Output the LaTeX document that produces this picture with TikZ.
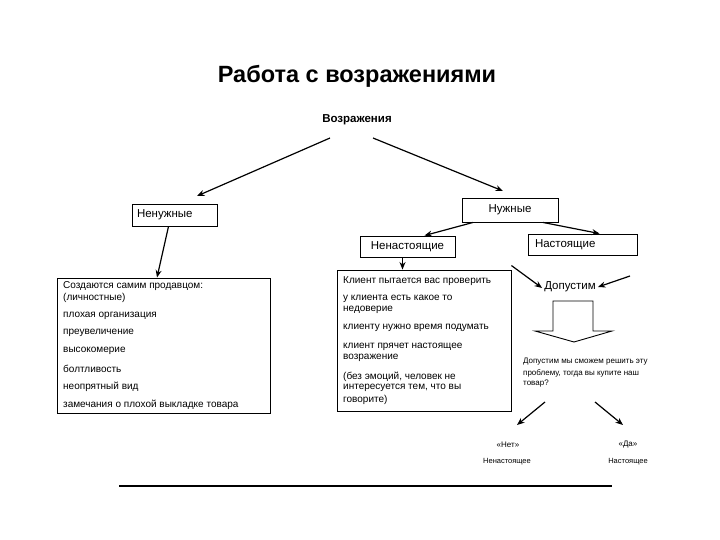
\documentclass[tikz,border=0pt]{standalone}
\usepackage{fontspec}
\setmainfont{Liberation Sans}
\usetikzlibrary{arrows.meta,calc}
\begin{document}
\begin{tikzpicture}[x=1pt,y=-1pt,
  arr/.style={-{Stealth[length=7.5pt,width=6pt]}, line width=1.2pt},
  frame/.style={draw, line width=0.9pt, inner sep=0pt},
  txt/.style={inner sep=0pt, anchor=west, font=\fontsize{10}{11}\selectfont},
  small/.style={inner sep=0pt, font=\fontsize{8}{11}\selectfont},
  lbl/.style={frame, font=\fontsize{11.5}{12}\selectfont}]
\useasboundingbox[fill=white] (0,0) rectangle (720,540);

\node[inner sep=0pt, font=\fontsize{23.5}{26}\selectfont\bfseries] (title) at (357,76) {Работа с возражениями};
\node[inner sep=0pt, font=\fontsize{11.5}{12}\selectfont\bfseries] (obj) at (357,120) {Возражения};

\node[lbl, minimum height=22pt, text width=75pt, inner xsep=5pt, align=left] (nenuzh) at (174.5,215) {Ненужные};
\node[lbl, minimum height=24pt, minimum width=96pt] (nuzh) at (510,210) {Нужные};
\node[lbl, minimum height=21pt, minimum width=95pt] (nenast) at (407.5,246.5) {Ненастоящие};
\node[lbl, minimum height=21pt, text width=95pt, inner xsep=7pt, align=left] (nast) at (582.5,244.5) {Настоящие};

\node[frame, minimum width=213pt, minimum height=135pt] (lbox) at (163.5,345.5) {};
\node[frame, minimum width=174pt, minimum height=141pt] (mbox) at (424,340.5) {};

\coordinate (a1) at (330,138);
\coordinate (a2) at (373,138);
\coordinate (n1) at (197,196);
\coordinate (n2) at (503,191);
\draw[arr] (a1) -- (n1);
\draw[arr] (a2) -- (n2);
\draw[arr] ([xshift=-37pt]nuzh.south) -- ([xshift=17pt]nenast.north);
\draw[arr] ([xshift=33pt]nuzh.south) -- ([xshift=17pt]nast.north);
\draw[arr] ([xshift=-6pt]nenuzh.south) -- ([xshift=-6.5pt]lbox.north);
\draw[arr] ([xshift=-5pt]nenast.south) -- ([xshift=-5pt]nenast.south |- mbox.north);

% left list
\node[txt] (l1) at (63,286) {Создаются самим продавцом:};
\node[txt] (l2) at (63,298) {(личностные)};
\node[txt] (l3) at (63,316) {плохая организация};
\node[txt] (l4) at (63,333) {преувеличение};
\node[txt] (l5) at (63,351) {высокомерие};
\node[txt] (l6) at (63,369) {болтливость};
\node[txt] (l7) at (63,387) {неопрятный вид};
\node[txt] (l8) at (63,405) {замечания о плохой выкладке товара};

% middle list
\node[txt] (m1) at (343,281) {Клиент пытается вас проверить};
\node[txt] (m2) at (343,299) {у клиента есть какое то};
\node[txt] (m3) at (343,310) {недоверие};
\node[txt] (m4) at (343,328) {клиенту нужно время подумать};
\node[txt] (m5) at (343,347) {клиент прячет настоящее};
\node[txt] (m6) at (343,358) {возражение};
\node[txt] (m7) at (343,377) {(без эмоций, человек не};
\node[txt] (m8) at (343,388) {интересуется тем, что вы};
\node[txt] (m9) at (343,400) {говорите)};

% right part
\node[inner sep=0pt, font=\fontsize{11.5}{12}\selectfont] (dop) at (570,287) {Допустим};
\coordinate (r1) at (630,276);
\draw[arr] ([yshift=4pt]mbox.north east) -- ([xshift=-2pt,yshift=-1pt]dop.west);
\draw[arr] (r1) -- ([xshift=2pt]dop.east);

\draw[line width=0.9pt] (553,301) -- (593,301) -- (593,331) -- (612,331) -- (574,342) -- (535,331) -- (553,331) -- cycle;

\node[small, anchor=west] (q1) at (523,362) {Допустим мы сможем решить эту};
\node[small, anchor=west] (q2) at (523,373) {проблему, тогда вы купите наш};
\node[small, anchor=west] (q3) at (523,384) {товар?};

\node[small] (net) at (508,445) {«Нет»};
\node[small, font=\fontsize{7.5}{11}\selectfont] (nen) at (507,462) {Ненастоящее};
\node[small] (da) at (628,445) {«Да»};
\node[small, font=\fontsize{7.5}{11}\selectfont] (nas) at (628,462) {Настоящее};

\coordinate (d1) at (545,402);
\coordinate (d2) at (595,402);
\coordinate (e1) at (517,425);
\coordinate (e2) at (623,425);
\draw[arr] (d1) -- (e1);
\draw[arr] (d2) -- (e2);

\coordinate (b1) at (119,486);
\coordinate (b2) at (612,486);
\draw[line width=1.2pt] (b1) -- (b2);
\end{tikzpicture}
\end{document}
